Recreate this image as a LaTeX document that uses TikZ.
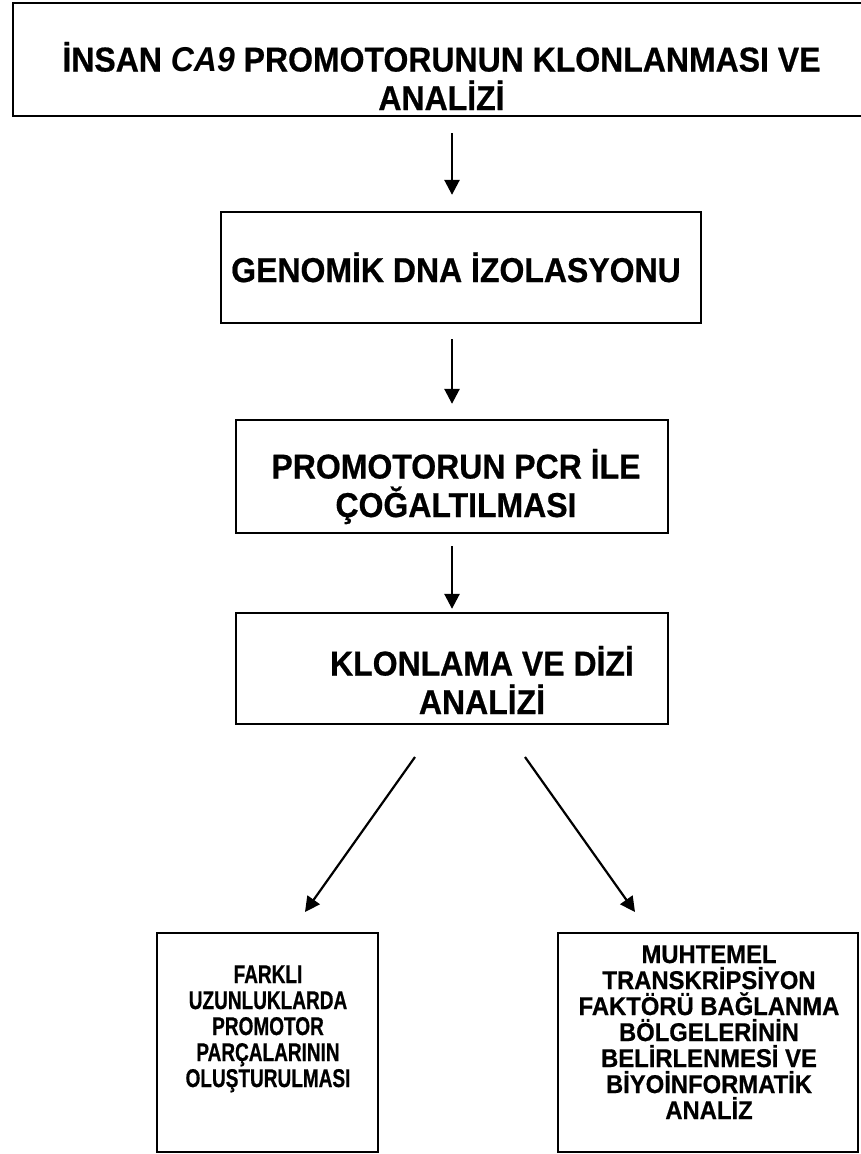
\documentclass[tikz,border=0pt]{standalone}
\usepackage{fontspec}
\setmainfont{Liberation Sans}[FakeStretch=0.927, BoldFeatures={FakeBold=0.6}]
\newfontfamily\darfont{Liberation Sans}[FakeStretch=0.74, BoldFeatures={FakeBold=0.6}]
\usetikzlibrary{arrows.meta}
\lineskiplimit=-30pt

\tikzset{
  kutu/.style={draw, line width=2.3pt, inner sep=0pt},
  ok/.style={-{Triangle[length=15pt,width=15pt]}, line width=2.6pt},
  buyuk/.style={font=\bfseries\fontsize{34.5}{38.5}\selectfont, align=center, anchor=base, inner sep=0pt},
  kucuk/.style={font=\bfseries\fontsize{25.7}{26}\selectfont, align=center, anchor=base, inner sep=0pt}
}

\begin{document}
\begin{tikzpicture}[x=1pt, y=-1pt]
    \useasboundingbox (0,0) rectangle (861,1154);
    % kutular
    \node[kutu, minimum width=853pt, minimum height=113pt] (baslik) at (439.4,59.7) {};
    \node[kutu, minimum width=480pt, minimum height=111pt] (dna) at (461,267.5) {};
    \node[kutu, minimum width=432pt, minimum height=113pt] (pcr) at (452,476.5) {};
    \node[kutu, minimum width=432pt, minimum height=111pt] (klon) at (452,668.5) {};
    \node[kutu, minimum width=221pt, minimum height=219pt] (parca) at (267.5,1042.5) {};
    \node[kutu, minimum width=300pt, minimum height=219pt] (biyo) at (708,1042.5) {};
    % yazilar (base = son satir)
    \node[buyuk] (baslik-metin) at (441.5,110) {İNSAN \textit{CA9} PROMOTORUNUN KLONLANMASI VE\\ANALİZİ};
    \node[buyuk] (dna-metin) at (456,282) {GENOMİK DNA İZOLASYONU};
    \node[buyuk] (pcr-metin) at (456,517) {PROMOTORUN PCR İLE\\ÇOĞALTILMASI};
    \node[buyuk] (klon-metin) at (482,714) {KLONLAMA VE DİZİ\\ANALİZİ};
    \node[kucuk, font=\darfont\bfseries\fontsize{25.7}{26}\selectfont] (parca-metin) at (268,1087) {FARKLI\\UZUNLUKLARDA\\PROMOTOR\\PARÇALARININ\\OLUŞTURULMASI};
    \node[kucuk] (biyo-metin) at (709,1119) {MUHTEMEL\\TRANSKRİPSİYON\\FAKTÖRÜ BAĞLANMA\\BÖLGELERİNİN\\BELİRLENMESİ VE\\BİYOİNFORMATİK\\ANALİZ};
    % oklar
    \draw[ok, shorten <=16pt, shorten >=16pt] (baslik.south -| pcr.center) -- (dna.north -| pcr.center);
    \draw[ok, shorten <=15pt, shorten >=15pt] (dna.south -| pcr.center) -- (pcr.north);
    \draw[ok, shorten <=12pt, shorten >=3pt] (pcr.south) -- (klon.north);
    \coordinate (sol-bas) at (415,757);
    \coordinate (sol-uc) at (305,912);
    \coordinate (sag-bas) at (525,757);
    \coordinate (sag-uc) at (635,912);
    \draw[ok, line width=2.2pt] (sol-bas) -- (sol-uc);
    \draw[ok, line width=2.2pt] (sag-bas) -- (sag-uc);
\end{tikzpicture}
\end{document}
